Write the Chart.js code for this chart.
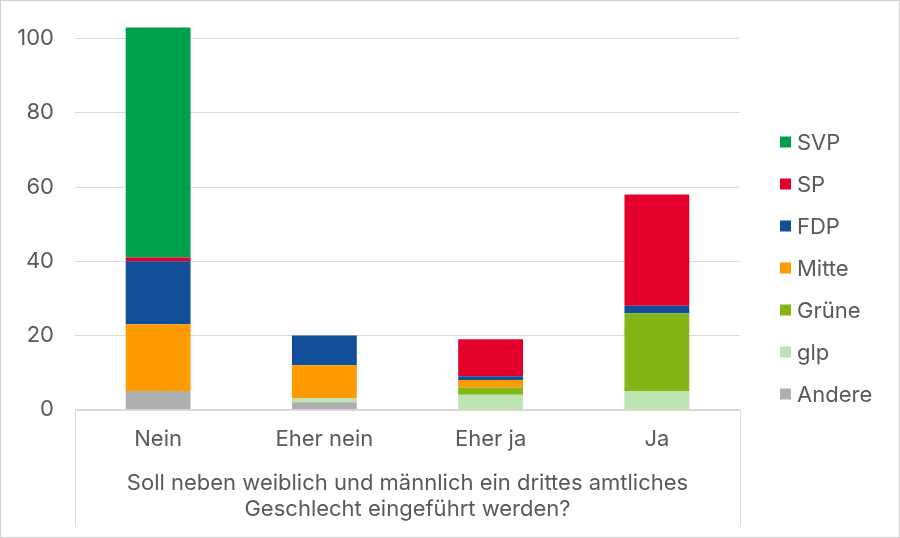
<!DOCTYPE html>
<html><head><meta charset="utf-8">
<script src="https://cdn.jsdelivr.net/npm/chart.js@4.4.1/dist/chart.umd.min.js"></script>
<style>html,body{margin:0;padding:0;background:#fff}#wrap{width:900px;height:538px;position:relative}</style>
</head><body><div id="wrap"><canvas id="c" width="900" height="538"></canvas></div>
<script>
const categories = ["Nein", "Eher nein", "Eher ja", "Ja"];
const andere = [5, 2, 0, 0];
const glp    = [0, 1, 4, 5];
const gruene = [0, 0, 2, 21];
const mitte  = [18, 9, 2, 0];
const fdp    = [17, 8, 1, 2];
const sp     = [1, 0, 10, 30];
const svp    = [62, 0, 0, 0];
const yTicks = [0, 20, 40, 60, 80, 100];
const axisTitle = ["Soll neben weiblich und männlich ein drittes amtliches", "Geschlecht eingeführt werden?"];

const gray = '#595959';
const gridCol = '#d9d9d9';
const FONT = 'Inter';
const FS = 22;

const frame = {
  id: 'frame',
  afterDraw(chart) {
    const ctx = chart.ctx, a = chart.chartArea;
    ctx.save();
    ctx.strokeStyle = gridCol; ctx.lineWidth = 1;
    ctx.beginPath();
    const l = Math.round(a.left) + 0.5, r = Math.round(a.right) + 0.5, b = Math.round(a.bottom) + 0.5;
    ctx.moveTo(l, b); ctx.lineTo(r, b);
    ctx.moveTo(l, b); ctx.lineTo(l, 525);
    ctx.moveTo(r, b); ctx.lineTo(r, 525);
    ctx.stroke();
    ctx.strokeStyle = '#d0d0d0';
    ctx.strokeRect(0.5, 0.5, 899, 537);
    // legend (reverse dataset order: SVP on top)
    const sets = chart.data.datasets.slice().reverse();
    ctx.font = FS + 'px ' + FONT;
    ctx.textBaseline = 'middle';
    ctx.textAlign = 'left';
    sets.forEach((d, i) => {
      const y = 142 + 42 * i;
      ctx.fillStyle = d.backgroundColor;
      ctx.fillRect(780, y - 5.5, 11, 11);
      ctx.fillStyle = gray;
      ctx.fillText(d.label, 797, y + 1);
    });
    ctx.restore();
  }
};

const ds = (label, data, color) => ({label, data, backgroundColor: color, borderWidth: 0, barPercentage: 0.39, categoryPercentage: 1});

new Chart(document.getElementById('c'), {
  type: 'bar',
  data: {
    labels: categories,
    datasets: [
      ds('Andere', andere, '#afafaf'),
      ds('glp', glp, '#bde5b1'),
      ds('Grüne', gruene, '#84b415'),
      ds('Mitte', mitte, '#ff9a00'),
      ds('FDP', fdp, '#114f9b'),
      ds('SP', sp, '#e4002b'),
      ds('SVP', svp, '#00a04b')
    ]
  },
  options: {
    responsive: false,
    animation: false,
    layout: {padding: {left: 0, right: 160, top: 20, bottom: 16}},
    plugins: {
      legend: {display: false},
      tooltip: {enabled: false}
    },
    scales: {
      x: {
        stacked: true,
        grid: {display: false, drawTicks: false},
        border: {display: false},
        ticks: {font: {family: FONT, size: FS}, color: gray, padding: 17},
        title: {display: true, text: axisTitle, font: {family: FONT, size: FS, lineHeight: 1.18}, color: gray, padding: {top: 0, bottom: 0}}
      },
      y: {
        stacked: true,
        min: 0, max: 105,
        afterBuildTicks: (s) => { s.ticks = yTicks.map(v => ({value: v})); },
        afterFit: (s) => { s.width = 75; s.paddingTop = 0; },
        grid: {color: gridCol, drawTicks: false},
        border: {display: false},
        ticks: {font: {family: FONT, size: FS}, color: gray, padding: 21}
      }
    }
  },
  plugins: [frame]
});
</script></body></html>
